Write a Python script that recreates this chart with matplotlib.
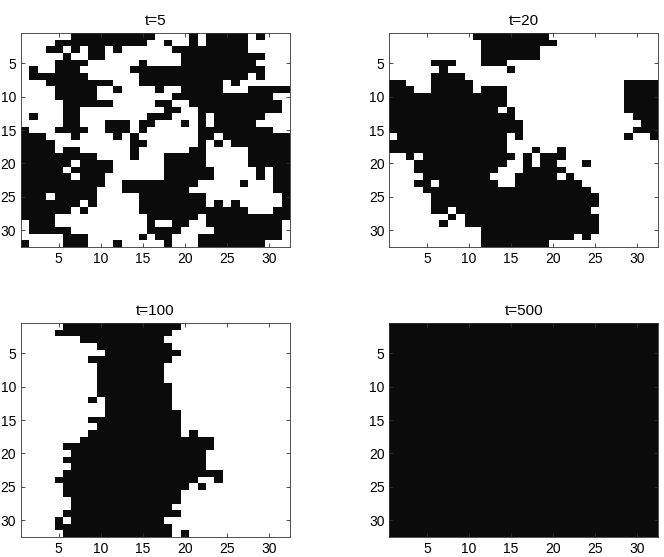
import numpy as np
import matplotlib
matplotlib.use("Agg")
import matplotlib.pyplot as plt
from matplotlib.colors import ListedColormap

plt.rcParams['font.family'] = ['Liberation Sans', 'DejaVu Sans']

# 32x32 spin grids, '#' = black cell, '.' = white cell (row 1 at top)
grid_t5 = [
    "......##########....#.#####.#...",
    "....###########..#..#.#####.....",
    "...##.#.##.#......#########.....",
    ".....#..##.........##########...",
    "....####......#....#########....",
    ".#..###......################...",
    ".#######......#############.#...",
    "...########...##########.#......",
    "....#####..#....#..#####...#####",
    "....#####.........############..",
    ".....######.....##..###########.",
    ".....##..........##..##########.",
    ".#...##........###...#.######...",
    ".....##...###.##...#.#.#####....",
    "#...####..###.#......#########..",
    "###...#....#.#.......##.########",
    "####.........##......#.#.#######",
    "####.##......#......##.....#####",
    "#########....#...#####.....#####",
    "######.####......#####.....#####",
    "#####.#####......######.....#.##",
    "######.###.......######.....#.##",
    "##########..#########.....#...##",
    "#########...########..........##",
    "###.#####.....########.........#",
    "#######.#.....########.#.#.....#",
    "######.#......#############...##",
    "####...........######.##########",
    ".###...........#..##..#########.",
    ".#####.........####....########.",
    ".....###......#.##...##########.",
    "#....###...#.....#...########...",
]

grid_t20 = [
    "..........#########.............",
    "...........#########............",
    "...........#######..............",
    "...........#######..............",
    ".....###...###..................",
    "......#.......#.................",
    ".....####.......................",
    "##...#####..................####",
    "###..#####.###..............####",
    "##############..............####",
    "##############..............####",
    "#############.#.............####",
    "###############..............###",
    "################..............##",
    "################.............###",
    ".#############.#............#..#",
    "##############..................",
    "##############...#..#...........",
    "..#.###########.#.###...........",
    "...###########..#.##...#........",
    "...##########...#####...........",
    "....########...#####.#..........",
    "...##.#######..########.........",
    "....####################........",
    ".....####################.......",
    ".....####################.......",
    ".....##.################........",
    ".......#.################.......",
    "......#..################.......",
    "...........##############.......",
    "...........###########.#........",
    "...........########.............",
]

# t=100: black run per row (first col, last col) plus isolated black cells
runs_t100 = [(6, 19), (5, 18), (8, 17), (10, 18), (11, 19), (9, 18), (10, 17), (10, 17),
             (10, 17), (10, 18), (10, 18), (11, 18), (11, 18), (11, 19), (9, 19), (10, 19),
             (9, 19), (8, 23), (6, 23), (7, 22), (6, 22), (7, 22), (6, 24), (5, 21),
             (6, 20), (6, 19), (7, 19), (7, 18), (6, 19), (7, 17), (5, 18), (6, 18)]
extra_t100 = [(12, 9), (17, 21), (24, 24), (25, 22), (30, 5), (32, 20)]

titles = ["t=5", "t=20", "t=100", "t=500"]
ticks = [5, 10, 15, 20, 25, 30]


def parse(rows):
    return np.array([[1 if ch == "#" else 0 for ch in r] for r in rows])


def from_runs(runs, extra):
    g = np.zeros((32, 32), dtype=int)
    for i, (a, b) in enumerate(runs):
        g[i, a - 1:b] = 1
    for r, c in extra:
        g[r - 1, c - 1] = 1
    return g


grids = [parse(grid_t5), parse(grid_t20), from_runs(runs_t100, extra_t100),
         np.ones((32, 32), dtype=int)]

cmap = ListedColormap(["white", "#0b0b0b"])

fig = plt.figure(figsize=(6.64, 5.57), dpi=100)
w, h = 0.405, 0.383
positions = [(0.0316, 0.557), (0.5863, 0.557), (0.0316, 0.0364), (0.5863, 0.0364)]

for (x0, y0), g, title in zip(positions, grids, titles):
    ax = fig.add_axes([x0, y0, w, h])
    ax.imshow(g, cmap=cmap, vmin=0, vmax=1, interpolation="nearest",
              extent=(0.5, 32.5, 32.5, 0.5), aspect="auto")
    ax.set_xticks(ticks)
    ax.set_yticks(ticks)
    ax.tick_params(direction="in", top=True, right=True, length=3,
                   width=0.6, labelsize=10, colors="#333333", labelcolor="black")
    for s in ax.spines.values():
        s.set_linewidth(0.6)
        s.set_color("#333333")
    ax.set_title(title, fontsize=11, pad=6)

fig.savefig("out.png", dpi=100)
